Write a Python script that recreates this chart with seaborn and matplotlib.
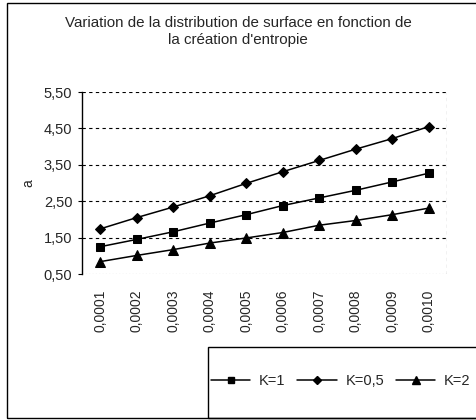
import matplotlib
matplotlib.use("Agg")
import matplotlib.pyplot as plt
from matplotlib.patches import Rectangle
from matplotlib.lines import Line2D
import seaborn as sns
import pandas as pd

sns.set_theme(style="white")
plt.rcParams["font.family"] = ["Liberation Sans", "DejaVu Sans"]

# Entropy-creation steps on the horizontal axis
categories = ["0,0001", "0,0002", "0,0003", "0,0004", "0,0005",
              "0,0006", "0,0007", "0,0008", "0,0009", "0,0010"]
k_1 = [1.25, 1.45, 1.66, 1.90, 2.13, 2.38, 2.59, 2.80, 3.03, 3.27]
k_05 = [1.74, 2.05, 2.34, 2.65, 2.99, 3.31, 3.62, 3.93, 4.22, 4.55]
k_2 = [0.84, 1.01, 1.17, 1.35, 1.49, 1.64, 1.84, 1.97, 2.13, 2.31]
series_names = ["K=1", "K=0,5", "K=2"]
y_ticks = [0.5, 1.5, 2.5, 3.5, 4.5, 5.5]

frames = []
for name, vals in zip(series_names, [k_1, k_05, k_2]):
    frames.append(pd.DataFrame({"x": categories, "a": vals, "serie": name}))
df = pd.concat(frames, ignore_index=True)

W, H = 476, 420
fig = plt.figure(figsize=(W / 100, H / 100), dpi=100)

# outer chart frame
fig.patches.append(Rectangle((7 / W, 1 - 418 / H), 480 / W, 415 / H,
                             transform=fig.transFigure, fill=False,
                             edgecolor="black", linewidth=1.0, zorder=0))

ax_l, ax_r, ax_t, ax_b = 82, 447, 92, 274
ax = fig.add_axes([ax_l / W, 1 - ax_b / H, (ax_r - ax_l) / W, (ax_b - ax_t) / H])

markers = {"K=1": "s", "K=0,5": "D", "K=2": "^"}
sizes = {"K=1": 5.5, "K=0,5": 5.0, "K=2": 6.5}
for name in series_names:
    sub = df[df["serie"] == name]
    sns.lineplot(data=sub, x="x", y="a", ax=ax, color="black", linewidth=1.1,
                 marker=markers[name], markersize=sizes[name],
                 markeredgecolor="black", markerfacecolor="black", sort=False)

ax.set_xlim(-0.5, len(categories) - 0.5)
ax.set_ylim(0.5, 5.5)
ax.set_yticks(y_ticks)
ax.set_yticklabels([f"{v:.2f}".replace(".", ",") for v in y_ticks], fontsize=10.5)
ax.set_xticks(range(len(categories)))
ax.set_xticklabels(categories, rotation=90, fontsize=10)
ax.tick_params(axis="x", length=0, pad=11)
ax.tick_params(axis="y", length=3, width=0.8, color="black", direction="out", left=True, pad=4)
ax.set_xlabel("")
ax.set_ylabel("a", fontsize=10, labelpad=6)

for y in y_ticks[1:]:
    ax.axhline(y, color="black", linestyle=(0, (3, 3)), linewidth=0.8, zorder=0)

for side in ["top", "right", "bottom"]:
    ax.spines[side].set_visible(False)
ax.spines["left"].set_color("black")
ax.spines["left"].set_linewidth(1.0)
ax.axvline(len(categories) - 0.5, color="black", linestyle=(0, (3, 3)), linewidth=0.8)
ax.axhline(0.5, color="#777777", linestyle=(0, (1, 2)), linewidth=0.8)
if ax.get_legend() is not None:
    ax.get_legend().remove()

fig.text(0.5, 1 - 23 / H, "Variation de la distribution de surface en fonction de",
         ha="center", va="center", fontsize=10.9)
fig.text(0.5, 1 - 40 / H, "la création d'entropie", ha="center", va="center", fontsize=10.9)

# legend box at the bottom right
fig.patches.append(Rectangle((208 / W, 1 - 418 / H), 300 / W, 71 / H,
                             transform=fig.transFigure, fill=False,
                             edgecolor="black", linewidth=1.0, zorder=0))
handles = [Line2D([], [], color="black", linewidth=1.1, marker=markers[n],
                  markersize=sizes[n] - 0.8) for n in series_names]
fig.legend(handles, series_names, loc="center left",
           bbox_to_anchor=(211 / W, 1 - 381 / H), ncol=3, frameon=False,
           fontsize=10.5, handlelength=2.7, handletextpad=0.6, columnspacing=0.8,
           borderaxespad=0, borderpad=0.0)

fig.savefig("out.png", dpi=100)
